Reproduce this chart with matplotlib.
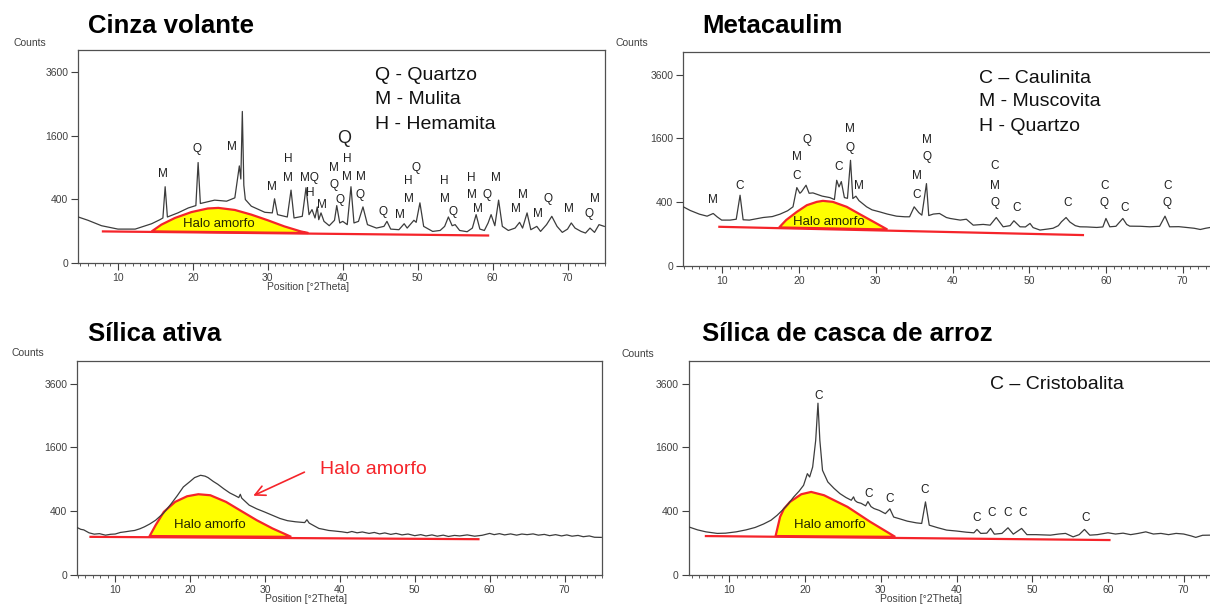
import numpy as np
import matplotlib

matplotlib.use("Agg")
import matplotlib.pyplot as plt

plt.rcParams["font.family"] = ["Liberation Sans", "DejaVu Sans"]

W, H = 1210, 606

# ---- Cinza volante -------------------------------------------------------
cv_theta = [4.7, 6.0, 7.8, 10.0, 12.3, 14.5, 15.6, 16.0, 16.3, 16.6, 18.0, 19.4, 20.4,
            20.7, 21.0, 22.9, 24.5, 25.6, 26.2, 26.4, 26.6, 26.8, 27.0, 27.8, 29.6,
            30.6, 30.9, 31.3, 32.6, 33.1, 33.5, 34.6, 35.1, 35.5, 35.9, 36.3, 36.6,
            36.8, 37.1, 37.5, 38.2, 38.9, 39.2, 39.6, 40.0, 40.6, 41.1, 41.5, 42.1,
            42.7, 43.3, 44.5, 45.5, 45.9, 46.4, 47.5, 48.2, 48.6, 49.5, 49.8, 50.3,
            50.8, 52.0, 53.0, 53.6, 54.1, 54.6, 55.0, 55.6, 56.6, 57.3, 57.8, 58.3,
            58.9, 59.4, 59.8, 60.3, 60.8, 61.3, 62.1, 63.0, 63.6, 64.0, 64.6, 65.1,
            65.9, 66.4, 67.2, 67.9, 68.6, 69.3, 70.0, 70.5, 71.0, 71.8, 72.4, 73.0,
            73.6, 74.2, 74.9]
cv_counts = [210, 181, 138, 114, 114, 153, 186, 201, 577, 210, 249, 301, 327,
             1001, 351, 392, 379, 421, 935, 700, 2278, 600, 400, 320, 255,
             249, 409, 232, 210, 527, 201, 216, 562, 232, 283, 201, 312,
             186, 249, 172, 138, 181, 327, 159, 172, 146, 577, 159, 172,
             312, 146, 121, 133, 172, 114, 110, 153, 121, 181, 164, 359,
             133, 99, 105, 133, 210, 138, 146, 105, 97, 121, 232, 114,
             105, 159, 232, 138, 392, 133, 105, 121, 164, 121, 249, 110,
             133, 99, 146, 216, 133, 93, 114, 159, 121, 99, 89, 121,
             93, 146, 133]
cv_halo_theta = [14.5, 15.8, 17.6, 19.8, 22.0, 23.4, 25.6, 27.8, 30.0, 32.2, 34.4, 35.4]
cv_halo_counts = [99, 146, 201, 257, 295, 301, 279, 232, 181, 133, 99, 89]
cv_base_theta = [8.0, 59.4]
cv_base_counts = [99, 75]
cv_marks = ["M", "Q", "M", "M", "H", "M", "MQ", "H", "M", "M", "Q", "Q", "H", "M",
            "M", "Q", "Q", "M", "H", "M", "Q", "H", "M", "Q", "H", "M", "M", "Q",
            "M", "M", "M", "M", "Q", "M", "Q", "M"]
cv_marks_theta = [16.0, 20.5, 25.2, 30.6, 32.7, 32.7, 35.5, 35.7, 37.2, 38.8, 38.8,
                  39.6, 40.6, 40.6, 42.4, 42.3, 45.4, 47.7, 48.8, 48.8, 49.8, 53.6,
                  53.6, 54.7, 57.1, 57.2, 58.1, 59.3, 60.4, 63.1, 64.0, 66.0, 67.4,
                  70.2, 72.8, 73.6]
cv_marks_counts = [780, 1287, 1340, 578, 1083, 723, 723, 489, 339, 903, 597,
                   391, 1083, 733, 733, 457, 259, 232, 667, 400, 903, 667,
                   400, 255, 723, 457, 290, 457, 711, 290, 457, 239, 400,
                   294, 239, 400]
cv_legend = ["Q - Quartzo", "M - Mulita", "H - Hemamita"]

# ---- Metacaulim ------------------------------------------------------------
mk_theta = [4.9, 5.8, 7.0, 8.0, 8.8, 9.3, 9.9, 11.0, 11.8, 12.3, 12.7, 13.5, 15.3,
            16.5, 17.5, 18.5, 19.2, 19.7, 20.1, 20.3, 20.9, 21.3, 21.8, 23.0, 24.0,
            24.6, 24.9, 25.2, 25.5, 25.9, 26.3, 26.7, 27.0, 27.4, 27.8, 28.8, 29.5,
            30.5, 31.5, 32.7, 33.8, 34.4, 35.0, 35.6, 36.0, 36.6, 36.9, 37.5, 38.3,
            39.2, 39.7, 41.0, 41.8, 42.7, 44.0, 44.9, 45.7, 46.6, 47.5, 48.0, 48.8,
            49.5, 50.1, 50.5, 51.4, 52.5, 53.1, 53.8, 54.2, 54.8, 55.3, 56.0, 56.6,
            57.5, 58.8, 59.6, 60.0, 60.5, 61.3, 62.2, 62.7, 63.1, 64.5, 65.7, 67.0,
            67.7, 68.3, 69.5, 70.5, 71.5, 72.3, 73.0, 74.0, 75.0]
mk_counts = [344, 303, 264, 244, 271, 238, 207, 207, 215, 492, 210, 207, 231,
             240, 264, 300, 344, 604, 520, 540, 641, 520, 525, 480, 460,
             434, 722, 615, 700, 460, 450, 1097, 447, 479, 420, 344, 310,
             288, 265, 244, 238, 238, 344, 280, 254, 667, 250, 265, 271,
             231, 222, 207, 215, 164, 170, 164, 231, 151, 160, 201, 151,
             150, 178, 145, 127, 135, 140, 160, 192, 231, 190, 160, 151,
             150, 146, 150, 222, 151, 155, 222, 170, 156, 155, 151, 155,
             244, 151, 152, 146, 140, 131, 140, 150, 148]
mk_halo_theta = [17.4, 18.3, 19.7, 21.0, 22.3, 23.1, 24.4, 26.2, 27.9, 29.7, 31.5]
mk_halo_counts = [146, 207, 288, 363, 404, 417, 404, 344, 264, 192, 131]
mk_base_theta = [9.6, 57.0]
mk_base_counts = [151, 94]
mk_marks = ["M", "C", "C", "M", "Q", "C", "M", "Q", "M", "M", "C", "M", "Q",
            "C", "M", "Q", "C", "C", "C", "Q", "C", "C", "Q"]
mk_marks_theta = [8.8, 12.2, 19.7, 19.7, 21.0, 25.2, 26.6, 26.6, 27.8, 35.3, 35.3,
                  36.7, 36.7, 45.5, 45.5, 45.5, 48.3, 55.0, 59.8, 59.8, 62.5,
                  68.0, 68.0]
mk_marks_counts = [434, 625, 791, 1167, 1567, 963, 1833, 1367, 625, 791, 492,
                   1567, 1167, 977, 625, 392, 325, 384, 625, 384, 325, 625, 384]
mk_legend = ["C \u2013 Caulinita", "M - Muscovita", "H - Quartzo"]

# ---- Sílica ativa ----------------------------------------------------------
sa_theta = [4.9, 5.4, 5.8, 6.5, 7.2, 7.9, 8.7, 9.4, 10.0, 10.7, 11.3, 12.0, 12.6,
            13.3, 13.9, 14.6, 15.4, 16.5, 17.5, 18.3, 19.1, 20.0, 20.6, 21.4, 22.0,
            22.4, 23.1, 23.7, 24.5, 25.3, 26.0, 26.5, 26.7, 26.9, 27.9, 28.9, 29.9,
            31.0, 32.0, 33.0, 34.1, 35.3, 35.6, 35.9, 36.5, 37.2, 37.8, 38.5, 39.3,
            40.3, 41.0, 41.6, 42.3, 43.0, 43.9, 44.6, 45.3, 46.0, 46.8, 47.5, 48.3,
            49.1, 50.0, 50.8, 51.5, 52.3, 53.0, 53.8, 54.5, 55.3, 56.0, 57.0, 58.0,
            59.0, 60.0, 60.6, 61.3, 62.0, 62.8, 63.6, 64.3, 65.0, 65.8, 66.5, 67.3,
            68.0, 68.8, 69.6, 70.3, 71.0, 71.8, 72.5, 73.3, 74.0, 74.9]
sa_counts = [222, 205, 200, 175, 164, 168, 156, 163, 165, 178, 183, 190, 195,
             210, 228, 255, 295, 380, 502, 620, 762, 860, 932, 977, 960,
             932, 860, 809, 730, 662, 620, 589, 640, 580, 479, 430, 392,
             350, 314, 290, 278, 270, 300, 265, 240, 213, 205, 195, 190,
             183, 176, 186, 175, 182, 170, 178, 166, 174, 162, 170, 158,
             165, 152, 160, 150, 158, 148, 156, 146, 154, 150, 158, 148,
             155, 170, 160, 168, 158, 166, 156, 165, 160, 166, 156, 162,
             152, 160, 150, 158, 148, 154, 144, 150, 140, 139]
sa_halo_theta = [14.6, 15.4, 16.5, 18.0, 19.6, 21.1, 22.7, 24.8, 26.8, 28.9, 31.0, 33.5]
sa_halo_counts = [149, 244, 392, 525, 609, 641, 625, 525, 404, 295, 213, 143]
sa_base_theta = [6.7, 58.5]
sa_base_counts = [143, 126]

# ---- Sílica de casca de arroz ---------------------------------------------
sc_theta = [4.6, 5.8, 6.9, 8.4, 9.5, 10.9, 12.2, 13.4, 14.5, 15.5, 16.3, 17.0, 17.8,
            18.5, 19.2, 19.8, 20.3, 20.6, 21.0, 21.4, 21.7, 21.95, 22.3, 23.0, 23.8,
            24.6, 25.4, 26.1, 26.4, 26.6, 26.9, 27.4, 28.0, 28.3, 28.7, 29.1, 29.8,
            30.6, 31.2, 31.7, 32.5, 33.5, 34.7, 35.4, 35.9, 36.4, 37.5, 38.7, 40.0,
            41.3, 42.3, 42.7, 43.2, 44.0, 44.5, 45.0, 46.0, 46.8, 47.5, 48.6, 49.3,
            50.5, 52.4, 53.5, 54.4, 55.4, 56.2, 56.9, 57.6, 58.6, 60.0, 61.0, 62.0,
            63.0, 64.0, 65.0, 66.0, 67.0, 68.0, 69.0, 70.0, 71.0, 71.6, 72.5, 73.5,
            75.0]
sc_counts = [228, 200, 183, 170, 172, 183, 200, 222, 255, 295, 350, 413, 500,
             599, 690, 791, 1009, 944, 1146, 1780, 2900, 1780, 1077, 851, 740,
             651, 590, 549, 600, 545, 520, 505, 470, 530, 460, 434, 410,
             370, 430, 330, 310, 285, 267, 261, 525, 244, 220, 198, 190,
             180, 175, 204, 170, 172, 213, 164, 170, 219, 164, 213, 160,
             160, 156, 165, 170, 143, 160, 204, 156, 160, 175, 165, 172,
             160, 170, 183, 165, 170, 160, 170, 165, 150, 139, 155, 156,
             150]
sc_halo_theta = [16.1, 16.7, 17.2, 18.0, 19.5, 20.8, 22.5, 25.6, 28.6, 31.9]
sc_halo_counts = [149, 332, 430, 525, 641, 678, 625, 456, 278, 143]
sc_base_theta = [6.9, 60.2]
sc_base_counts = [149, 120]
sc_marks = ["C"] * 9
sc_marks_theta = [21.8, 28.4, 31.1, 35.8, 42.7, 44.6, 46.8, 48.7, 57.0]
sc_marks_counts = [3164, 651, 574, 706, 321, 379, 379, 379, 321]

y_ticks = [0, 400, 1600, 3600]
x_ticks = [10, 20, 30, 40, 50, 60, 70]

TRACE = "#3c3c3c"
RED = "#f5242a"
GREY = "#404040"

fig = plt.figure(figsize=(W / 100, H / 100), dpi=100)


def px_axes(left, top, right, bottom):
    return fig.add_axes([left / W, 1 - bottom / H, (right - left) / W, (bottom - top) / H])


def fig_text(x, y, s, **kw):
    fig.text(x / W, 1 - y / H, s, **kw)


def setup(ax, xlim):
    ax.set_yscale("function", functions=(lambda v: np.sqrt(np.maximum(v, 0)), np.square))
    ax.set_ylim(0, 4500)
    ax.set_xlim(*xlim)
    ax.set_yticks(y_ticks)
    ax.set_yticklabels([str(v) for v in y_ticks])
    ax.set_xticks(x_ticks)
    ax.set_xticks(np.arange(5, 76, 1), minor=True)
    ax.yaxis.set_minor_locator(matplotlib.ticker.NullLocator())
    ax.tick_params(axis="both", which="major", length=5, width=0.8, color=GREY,
                   labelsize=7.5, labelcolor=GREY, pad=2)
    ax.tick_params(axis="x", which="minor", length=2.5, width=0.6, color=GREY)
    for sp in ax.spines.values():
        sp.set_color("#505050")
        sp.set_linewidth(0.9)


def draw_panel(ax, theta, counts, halo_t, halo_c, base_t, base_c, label_pos):
    ax.fill(halo_t, halo_c, facecolor="#ffff00", edgecolor=RED, linewidth=1.6, zorder=2)
    ax.plot(base_t, base_c, color=RED, linewidth=1.6, zorder=3)
    ax.plot(theta, counts, color=TRACE, linewidth=0.9, zorder=4)
    ax.text(label_pos[0], label_pos[1], "Halo amorfo", fontsize=9.5, color="#262600",
            ha="center", va="center", zorder=5)


def draw_marks(ax, marks, mt, mc, size=8.5):
    for s, t, c in zip(marks, mt, mc):
        ax.text(t, c, s, fontsize=size, color="#202020", ha="center", va="center", zorder=6)


# Cinza volante
ax1 = px_axes(78, 50, 605, 263)
setup(ax1, (4.67, 74.93))
draw_panel(ax1, cv_theta, cv_counts, cv_halo_theta, cv_halo_counts,
           cv_base_theta, cv_base_counts, (23.4, 153))
draw_marks(ax1, cv_marks, cv_marks_theta, cv_marks_counts)
ax1.text(40.2, 1542, "Q", fontsize=13, color="#202020", ha="center", va="center")
for s, c in zip(cv_legend, [3480, 2640, 1890]):
    ax1.text(44.3, c, s, fontsize=14, color="#111111", ha="left", va="center")

# Metacaulim
ax2 = px_axes(683, 52, 1221, 266)
setup(ax2, (4.86, 75.0))
draw_panel(ax2, mk_theta, mk_counts, mk_halo_theta, mk_halo_counts,
           mk_base_theta, mk_base_counts, (23.9, 192))
draw_marks(ax2, mk_marks, mk_marks_theta, mk_marks_counts)
for s, c in zip(mk_legend, [3470, 2659, 1914]):
    ax2.text(43.5, c, s, fontsize=14, color="#111111", ha="left", va="center")

# Sílica ativa
ax3 = px_axes(77, 361, 602, 575)
setup(ax3, (4.9, 74.9))
draw_panel(ax3, sa_theta, sa_counts, sa_halo_theta, sa_halo_counts,
           sa_base_theta, sa_base_counts, (22.6, 244))
ax3.annotate("", xy=(28.1, 600), xytext=(35.6, 1063),
             arrowprops=dict(arrowstyle="->", color=RED, lw=1.2, mutation_scale=18))
ax3.text(37.3, 1090, "Halo amorfo", fontsize=14, color=RED, ha="left", va="center")

# Sílica de casca de arroz
ax4 = px_axes(688.5, 361, 1221.5, 575)
setup(ax4, (4.6, 75.0))
draw_panel(ax4, sc_theta, sc_counts, sc_halo_theta, sc_halo_counts,
           sc_base_theta, sc_base_counts, (23.3, 244))
draw_marks(ax4, sc_marks, sc_marks_theta, sc_marks_counts)
ax4.text(44.4, 3563, "C \u2013 Cristobalita", fontsize=14, color="#111111",
         ha="left", va="center")

# titles and axis captions
for x, y, s in [(88, 33, "Cinza volante"), (702, 33, "Metacaulim"),
                (88, 341, "Sílica ativa"), (702, 341, "Sílica de casca de arroz")]:
    fig_text(x, y, s, fontsize=18.5, fontweight="bold", color="black",
             ha="left", va="baseline")
for x, y in [(13, 43), (616, 43), (11, 353), (621, 354)]:
    fig_text(x, y, "Counts", fontsize=7.5, color=GREY, ha="left", va="center")
for x, y in [(308, 287), (306, 599), (921, 599)]:
    fig_text(x, y, "Position [°2Theta]", fontsize=7.5, color=GREY, ha="center", va="center")

fig.savefig("out.png", dpi=100)
